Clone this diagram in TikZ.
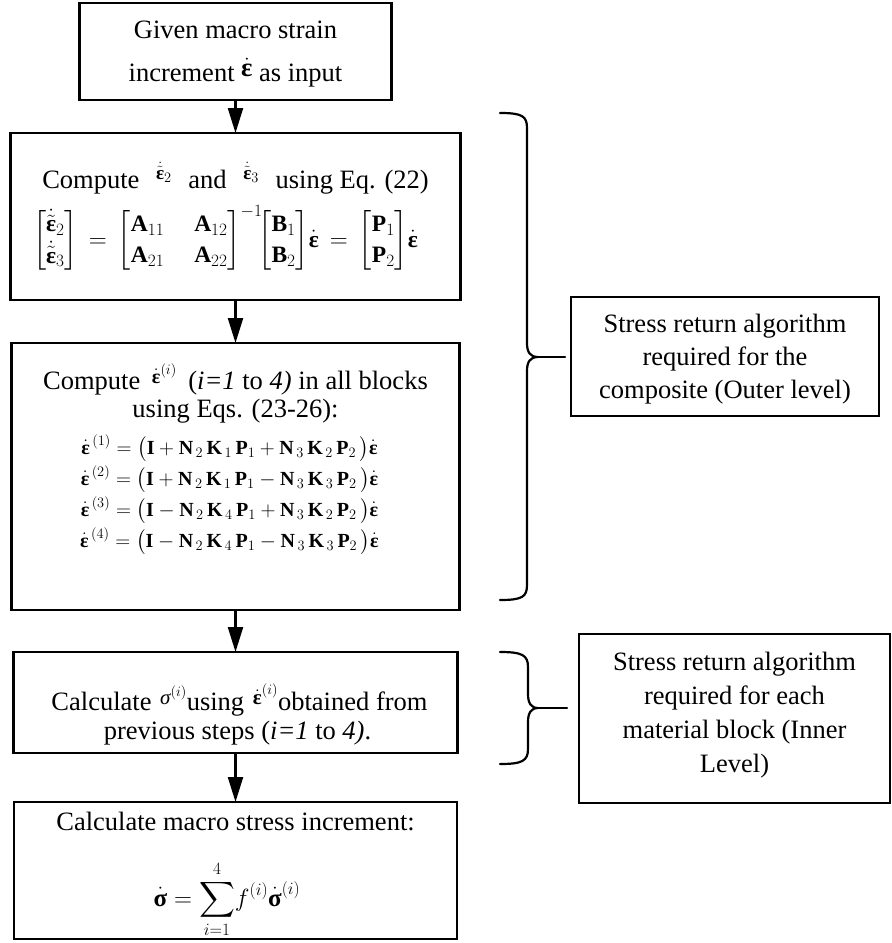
\documentclass[tikz,border=0pt]{standalone}
\usepackage{amsmath}
\usepackage{fontspec}
\setmainfont{Liberation Serif}
\usetikzlibrary{arrows.meta}

\newcommand\eps{\text{\normalfont\bfseries ε}}
\newcommand\epd{\dot{\eps}}
\newcommand\ept{\dot{\tilde{\eps}}}
\newcommand\sgb{\text{\normalfont\bfseries σ}}
\newcommand\sgi{\text{\normalfont\itshape σ}}
% box content: fixed size, lines placed by exact baseline distances
\newcommand\boxtext[3]{\begin{minipage}[c][#2][t]{#1}\fontsize{26.5}{32}\selectfont\hbox{}#3\end{minipage}}
% \Ln{distance from previous baseline}{2 x horizontal shift}{line}
\newcommand\Ln[3]{\kern-\prevdepth\nointerlineskip\vbox to #1{\vss\hbox to\linewidth{\hss\hspace*{#2}#3\hss}}}

\tikzset{
  fbox/.style={draw, line width=2.6pt, inner sep=0pt, outer sep=0pt},
  arr/.style={line width=2.2pt, -{Triangle[length=25pt,width=15pt]}},
  brace/.style={line width=2.2pt, line cap=round, line join=round}
}

\begin{document}
\begin{tikzpicture}[x=1pt,y=-1pt]
\useasboundingbox (0,0) rectangle (892,943);

% main flow boxes
\node[fbox] (b1) at (235.5,51.5) {\boxtext{312pt}{97pt}{%
  \Ln{35pt}{0pt}{Given macro strain}%
  \Ln{43pt}{0pt}{increment \raisebox{5pt}{$\epd$} as input}}};

\node[fbox] (b2) at (235.5,216.5) {\boxtext{450pt}{167pt}{%
  \Ln{55pt}{0pt}{Compute\hspace{10pt} \raisebox{9pt}{\fontsize{19}{22}\selectfont$\ept_2$}\hspace{10pt} and\hspace{10pt} \raisebox{9pt}{\fontsize{19}{22}\selectfont$\ept_3$}\hspace{10pt} using Eq. (22)}%
  \Ln{59pt}{-20pt}{\fontsize{23.5}{31}\selectfont$\begin{bmatrix}\ept_2\\ \ept_3\end{bmatrix}\,=\,{\arraycolsep=15pt\begin{bmatrix}\mathbf{A}_{11} & \mathbf{A}_{12}\\ \mathbf{A}_{21} & \mathbf{A}_{22}\end{bmatrix}}^{-1}\!{\begin{bmatrix}\mathbf{B}_1\\ \mathbf{B}_2\end{bmatrix}}\epd\,=\,{\begin{bmatrix}\mathbf{P}_1\\ \mathbf{P}_2\end{bmatrix}}\epd$}}};

\node[fbox] (b3) at (235.5,476.5) {\boxtext{448pt}{267pt}{%
  \Ln{46pt}{0pt}{Compute\hspace{5pt} \raisebox{6pt}{\fontsize{20}{24}\selectfont$\epd^{(i)}$}\hspace{5pt} (\textit{i=1} to \textit{4)} in all blocks}%
  \Ln{28pt}{0pt}{using Eqs. (23-26):}%
  \Ln{37pt}{-12pt}{\fontsize{20}{24}\selectfont$\epd^{\,(1)} = \bigl(\mathbf{I} + \mathbf{N}_{\,2}\,\mathbf{K}_{\,1}\,\mathbf{P}_1 + \mathbf{N}_{\,3}\,\mathbf{K}_{\,2}\,\mathbf{P}_2\,\bigr)\epd$}%
  \Ln{31pt}{-12pt}{\fontsize{20}{24}\selectfont$\epd^{\,(2)} = \bigl(\mathbf{I} + \mathbf{N}_{\,2}\,\mathbf{K}_{\,1}\,\mathbf{P}_1 - \mathbf{N}_{\,3}\,\mathbf{K}_{\,3}\,\mathbf{P}_2\,\bigr)\epd$}%
  \Ln{31pt}{-12pt}{\fontsize{20}{24}\selectfont$\epd^{\,(3)} = \bigl(\mathbf{I} - \mathbf{N}_{\,2}\,\mathbf{K}_{\,4}\,\mathbf{P}_1 + \mathbf{N}_{\,3}\,\mathbf{K}_{\,2}\,\mathbf{P}_2\,\bigr)\epd$}%
  \Ln{31pt}{-12pt}{\fontsize{20}{24}\selectfont$\epd^{\,(4)} = \bigl(\mathbf{I} - \mathbf{N}_{\,2}\,\mathbf{K}_{\,4}\,\mathbf{P}_1 - \mathbf{N}_{\,3}\,\mathbf{K}_{\,3}\,\mathbf{P}_2\,\bigr)\epd$}}};

\node[fbox] (b4) at (235.5,702.5) {\boxtext{444pt}{101pt}{%
  \Ln{58pt}{8pt}{Calculate\hspace{2pt} \raisebox{6pt}{\fontsize{21}{25}\selectfont$\sgi^{(i)}$}using\hspace{2pt} \raisebox{6pt}{\fontsize{21}{25}\selectfont$\epd^{(i)}$}obtained from}%
  \Ln{29pt}{4pt}{previous steps (\textit{i=1} to \textit{4)}.}}};

\node[fbox] (b5) at (235.5,870.5) {\boxtext{443pt}{137pt}{%
  \Ln{28pt}{0pt}{Calculate macro stress increment:}%
  \Ln{76pt}{-17pt}{\fontsize{25}{30}\selectfont$\displaystyle\dot{\sgb}=\sum_{i=1}^{4}\!f^{(i)}\dot{\sgb}^{(i)}$}}};

% side boxes
\node[fbox] (b6) at (725,356.5) {\boxtext{308pt}{119pt}{%
  \Ln{35pt}{0pt}{Stress return algorithm}%
  \Ln{33pt}{0pt}{required for the}%
  \Ln{33pt}{0pt}{composite (Outer level)}}};

\node[fbox] (b7) at (734.5,718.5) {\boxtext{311pt}{169pt}{%
  \Ln{36pt}{0pt}{Stress return algorithm}%
  \Ln{34pt}{0pt}{required for each}%
  \Ln{34pt}{0pt}{material block (Inner}%
  \Ln{34pt}{0pt}{Level)}}};

% flow arrows
\draw[arr] (b1.south) -- (b2.north);
\draw[arr] (b2.south) -- (b3.north);
\draw[arr] (b3.south) -- (b4.north);
\draw[arr] (b4.south) -- (b5.north);

% braces
\coordinate (c1) at (538,357);
\coordinate (c2) at (538,708);
\draw[brace] (500,113) .. controls (522,113) and (527,116) .. (527,128) -- (527,343)
  .. controls (527,352) and (530,357) .. (c1)
  .. controls (530,357) and (527,362) .. (527,371) -- (527,585)
  .. controls (527,597) and (522,600) .. (500,600);
\draw[brace] (500,652) .. controls (522,652) and (528,655) .. (528,667) -- (528,694)
  .. controls (528,703) and (531,708) .. (c2)
  .. controls (531,708) and (528,713) .. (528,722) -- (528,749)
  .. controls (528,761) and (522,764) .. (500,764);
\draw[brace, shorten >=6pt] (c1) -- (c1 -| b6.west);
\draw[brace, shorten >=12pt] (c2) -- (c2 -| b7.west);
\end{tikzpicture}
\end{document}
